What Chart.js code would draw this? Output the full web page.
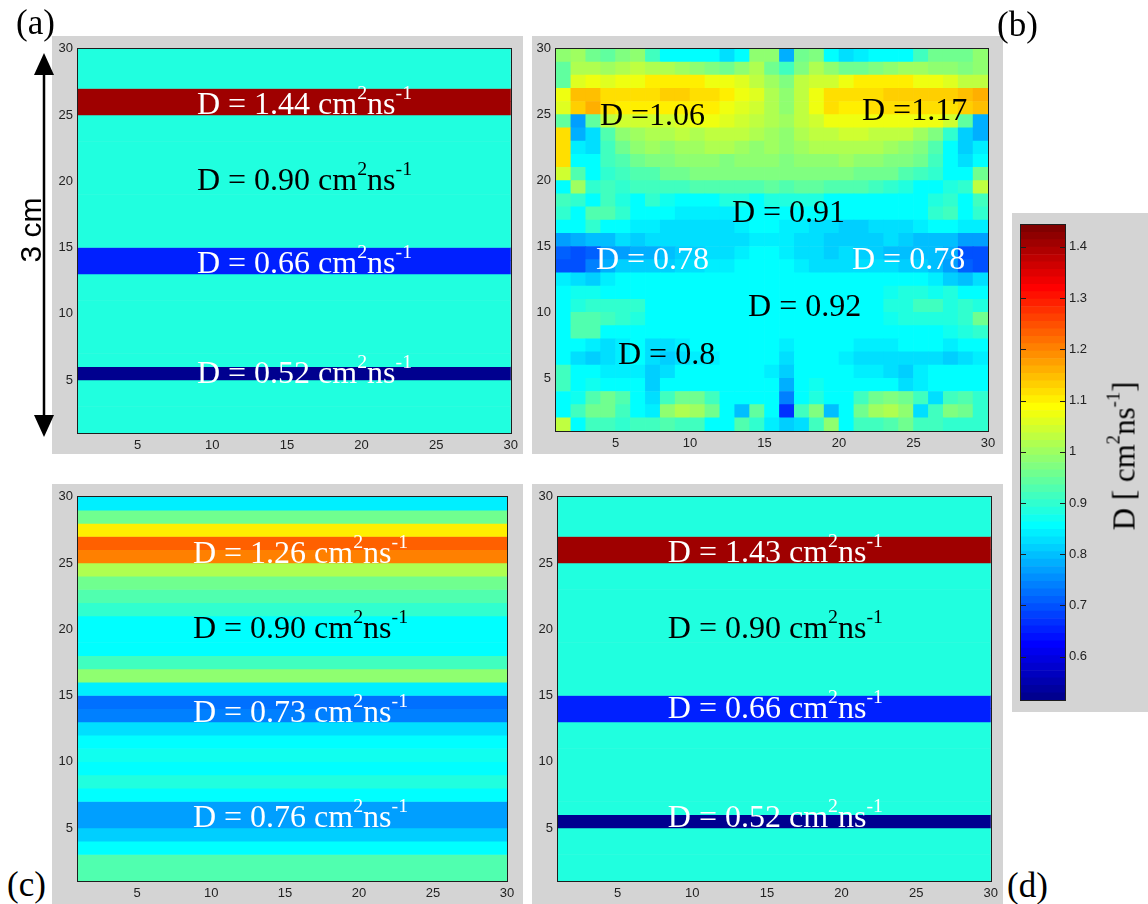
<!DOCTYPE html>
<html><head><meta charset="utf-8">
<script src="https://cdn.jsdelivr.net/npm/chart.js@4.4.1/dist/chart.umd.min.js"></script>
<style>
html,body{margin:0;padding:0;background:#fff;width:1148px;height:904px;overflow:hidden;position:relative;}
.panel{position:absolute;background:#d4d4d4;}
.panel canvas{display:block;}
.plab{position:absolute;font-family:"Liberation Serif",serif;font-size:35px;line-height:1;color:#000;white-space:nowrap;}
.rot{position:absolute;white-space:nowrap;line-height:1;transform:translate(-50%,-50%) rotate(-90deg);}
sup{font-size:60%;line-height:0;vertical-align:0.8em;}
</style></head><body>

<div class="panel" style="left:52px;top:36px;width:471px;height:418px"><canvas id="cA" width="471" height="418"></canvas></div>
<div class="panel" style="left:532px;top:36px;width:471px;height:418px"><canvas id="cB" width="471" height="418"></canvas></div>
<div class="panel" style="left:52px;top:484px;width:471px;height:420px"><canvas id="cC" width="471" height="420"></canvas></div>
<div class="panel" style="left:532px;top:484px;width:471px;height:420px"><canvas id="cD" width="471" height="420"></canvas></div>
<div class="panel" style="left:1012px;top:213px;width:136px;height:499px"><canvas id="cBar" width="136" height="499"></canvas></div>

<div class="plab" style="left:16px;top:5px">(a)</div>
<div class="plab" style="left:997px;top:7px">(b)</div>
<div class="plab" style="left:7px;top:867px">(c)</div>
<div class="plab" style="left:1007px;top:868px">(d)</div>

<svg style="position:absolute;left:0;top:0" width="70" height="460">
  <line x1="44" y1="70" x2="44" y2="420" stroke="#000" stroke-width="2.5"/>
  <polygon points="44,53 34,75 54,75" fill="#000"/>
  <polygon points="44,437 34,415 54,415" fill="#000"/>
</svg>
<div class="rot" style="left:31px;top:230px;font-family:'Liberation Sans',sans-serif;font-size:30px;">3 cm</div>
<div class="rot" style="left:1124px;top:456px;font-family:'Liberation Serif',serif;font-size:31px;">D [ cm<sup>2</sup>ns<sup>-1</sup>]</div>

<script>
// ---------------- data ----------------
const cellIndex = [1,2,3,4,5,6,7,8,9,10,11,12,13,14,15,16,17,18,19,20,21,22,23,24,25,26,27,28,29];
const tickValues = [5,10,15,20,25,30];
const colorbarTicks = [0.6,0.7,0.8,0.9,1,1.1,1.2,1.3,1.4];
const colorbarRange = [0.515,1.443];
const colorLimits = [0.52,1.47];

// horizontal layers, row 1 (bottom) to row 29 (top)
const rowsA = [0.90,0.90,0.90,0.90,0.52,0.90,0.90,0.90,0.90,0.90,0.90,0.90,0.66,0.66,0.90,0.90,0.90,0.90,0.90,0.90,0.90,0.90,0.90,0.90,1.44,1.44,0.90,0.90,0.90];
const rowsC = [0.94,0.94,0.872,0.825,0.78,0.785,0.862,0.895,0.872,0.89,0.867,0.834,0.751,0.732,0.853,1.006,0.923,0.867,0.867,0.867,0.913,0.941,0.969,1.035,1.23,1.258,1.128,0.969,0.853];
const rowsD = [0.90,0.90,0.90,0.90,0.52,0.90,0.90,0.90,0.90,0.90,0.90,0.90,0.66,0.66,0.90,0.90,0.90,0.90,0.90,0.90,0.90,0.90,0.90,0.90,1.43,1.43,0.90,0.90,0.90];

// panel (b): rows listed from top (row 29) to bottom (row 1), columns 1..29
const panelB = [
[1.006,1.016,0.976,0.96,0.986,1.006,0.935,0.873,0.868,0.868,0.868,0.842,0.863,0.996,0.996,0.801,0.97,0.986,0.868,0.842,0.853,0.873,0.873,0.873,0.935,0.976,0.97,0.976,1.006],
[0.955,1.037,1.037,1.016,1.037,1.047,1.027,1.037,1.016,0.996,0.986,0.976,1.006,1.037,0.97,0.935,0.986,1.037,1.006,0.976,0.97,0.986,0.996,1.016,1.016,1.006,0.996,0.986,1.006],
[0.955,1.078,1.088,1.078,1.088,1.098,1.114,1.114,1.114,1.114,1.098,1.088,1.073,1.052,1.016,0.986,1.047,1.063,1.063,1.088,1.114,1.114,1.114,1.114,1.098,1.088,1.078,1.052,1.047],
[1.088,1.165,1.165,1.139,1.139,1.139,1.139,1.144,1.144,1.139,1.129,1.114,1.098,1.073,1.037,1.006,1.052,1.088,1.129,1.129,1.139,1.139,1.144,1.144,1.144,1.150,1.155,1.165,1.186],
[1.078,1.150,1.175,1.129,1.119,1.119,1.119,1.119,1.119,1.119,1.114,1.098,1.078,1.063,1.027,0.996,1.052,1.088,1.129,1.114,1.119,1.129,1.129,1.129,1.129,1.129,1.129,1.150,1.165],
[0.955,0.781,0.96,1.047,1.057,1.063,1.068,1.068,1.078,1.088,1.088,1.078,1.063,1.052,1.037,1.016,1.047,1.063,1.088,1.098,1.098,1.098,1.098,1.098,1.093,1.088,1.063,0.96,0.791],
[1.129,0.791,0.842,0.95,1.006,1.016,1.037,1.037,1.042,1.037,1.042,1.052,1.042,1.037,1.016,0.996,1.037,1.042,1.052,1.063,1.063,1.052,1.052,1.042,1.016,0.986,0.914,0.822,0.791],
[1.139,0.853,0.842,0.935,0.97,0.996,1.016,1.006,1.016,1.016,1.027,1.027,1.016,1.006,1.016,1.006,1.016,1.027,1.027,1.037,1.037,1.027,1.016,1.006,0.986,0.95,0.873,0.822,0.853],
[1.129,0.868,0.873,0.935,0.95,0.97,0.981,0.981,0.996,0.996,0.996,0.986,0.996,0.996,1.006,0.986,1.006,1.006,1.006,1.016,1.006,0.996,0.986,0.986,0.97,0.935,0.863,0.842,0.863],
[1.063,0.95,0.873,0.914,0.935,0.95,0.95,0.97,0.97,0.981,0.981,0.981,0.986,0.981,0.986,0.981,0.986,0.986,0.986,0.981,0.97,0.97,0.97,0.95,0.935,0.914,0.873,0.873,0.97],
[0.868,1.016,0.914,0.924,0.914,0.935,0.935,0.935,0.935,0.94,0.94,0.94,0.95,0.94,0.96,0.95,0.96,0.96,0.95,0.94,0.94,0.935,0.914,0.894,0.873,0.873,0.894,0.914,1.052],
[0.935,0.914,0.873,0.935,0.894,0.873,0.914,0.883,0.873,0.873,0.873,0.894,0.894,0.873,0.894,0.894,0.899,0.894,0.873,0.873,0.868,0.873,0.873,0.868,0.873,0.894,0.914,0.873,0.935],
[0.914,0.873,0.94,0.94,0.914,0.873,0.873,0.868,0.858,0.853,0.853,0.858,0.868,0.873,0.873,0.873,0.873,0.873,0.868,0.868,0.863,0.863,0.868,0.873,0.873,0.914,0.935,0.873,0.914],
[0.868,0.868,0.914,0.873,0.863,0.853,0.853,0.842,0.832,0.832,0.837,0.842,0.853,0.863,0.863,0.853,0.853,0.842,0.832,0.822,0.822,0.832,0.837,0.842,0.853,0.863,0.873,0.853,0.853],
[0.781,0.796,0.812,0.812,0.832,0.822,0.832,0.832,0.832,0.842,0.842,0.832,0.842,0.853,0.853,0.848,0.842,0.832,0.822,0.822,0.822,0.822,0.832,0.822,0.812,0.807,0.807,0.786,0.776],
[0.72,0.704,0.714,0.781,0.786,0.791,0.791,0.807,0.817,0.827,0.832,0.842,0.853,0.863,0.863,0.853,0.842,0.832,0.827,0.832,0.827,0.817,0.812,0.812,0.812,0.807,0.801,0.709,0.704],
[0.709,0.709,0.75,0.796,0.817,0.827,0.827,0.827,0.832,0.842,0.853,0.853,0.863,0.868,0.868,0.863,0.853,0.842,0.842,0.842,0.842,0.832,0.832,0.827,0.817,0.807,0.786,0.72,0.709],
[0.848,0.837,0.817,0.853,0.873,0.873,0.873,0.873,0.873,0.873,0.873,0.873,0.873,0.873,0.873,0.873,0.873,0.873,0.873,0.873,0.873,0.873,0.873,0.873,0.863,0.853,0.827,0.807,0.832],
[0.868,0.878,0.878,0.873,0.873,0.873,0.873,0.873,0.873,0.873,0.873,0.873,0.873,0.873,0.873,0.873,0.873,0.873,0.873,0.873,0.873,0.873,0.878,0.894,0.894,0.878,0.894,0.873,0.873],
[0.873,0.894,0.914,0.914,0.914,0.914,0.873,0.873,0.873,0.873,0.873,0.873,0.873,0.873,0.873,0.873,0.873,0.873,0.873,0.873,0.873,0.873,0.894,0.899,0.924,0.924,0.899,0.914,0.894],
[0.873,0.945,0.95,0.935,0.914,0.894,0.873,0.873,0.873,0.873,0.873,0.873,0.873,0.873,0.873,0.873,0.873,0.873,0.873,0.873,0.873,0.873,0.878,0.894,0.899,0.899,0.894,0.914,0.97],
[0.868,0.95,0.95,0.873,0.873,0.873,0.873,0.873,0.873,0.873,0.873,0.873,0.873,0.873,0.873,0.863,0.873,0.873,0.873,0.873,0.873,0.873,0.873,0.873,0.873,0.873,0.878,0.894,0.914],
[0.868,0.863,0.853,0.842,0.853,0.863,0.842,0.832,0.848,0.863,0.868,0.873,0.873,0.873,0.863,0.853,0.868,0.868,0.863,0.863,0.853,0.853,0.858,0.863,0.863,0.863,0.853,0.863,0.868],
[0.868,0.842,0.822,0.832,0.853,0.863,0.842,0.822,0.832,0.853,0.853,0.863,0.868,0.873,0.863,0.842,0.863,0.868,0.863,0.853,0.842,0.842,0.837,0.832,0.832,0.842,0.822,0.832,0.853],
[0.935,0.868,0.863,0.853,0.848,0.853,0.822,0.842,0.863,0.868,0.863,0.873,0.873,0.873,0.853,0.817,0.868,0.873,0.868,0.863,0.853,0.853,0.832,0.822,0.853,0.868,0.873,0.868,0.873],
[0.935,0.873,0.878,0.873,0.873,0.863,0.822,0.863,0.873,0.873,0.873,0.873,0.868,0.873,0.873,0.796,0.873,0.878,0.873,0.873,0.873,0.873,0.868,0.842,0.853,0.873,0.873,0.873,0.873],
[0.873,0.878,0.95,0.97,0.94,0.873,0.842,0.935,0.97,0.97,0.935,0.873,0.873,0.868,0.873,0.75,0.873,0.899,0.873,0.873,0.935,0.97,0.981,0.97,0.935,0.842,0.935,0.95,0.914],
[0.873,0.935,0.97,0.97,0.924,0.873,0.853,1.006,1.037,1.016,0.97,0.873,0.812,0.96,0.873,0.674,0.935,0.986,0.812,0.873,0.97,1.016,1.037,1.006,0.832,0.935,0.986,0.97,0.914],
[1.047,0.873,0.935,0.935,0.914,0.935,0.935,0.95,0.935,0.935,0.873,0.873,0.95,0.914,0.853,0.822,0.842,0.935,1.006,0.873,0.935,0.935,0.95,0.97,0.935,0.935,0.914,0.914,0.914]
];

// annotation texts: value strings and their places (data units)
const labelsA = [
  {v:'1.44', x:8.97, y:25.85, c:'#fff'}, {v:'0.90', x:8.97, y:20.15, c:'#000'},
  {v:'0.66', x:8.97, y:13.9, c:'#fff'}, {v:'0.52', x:8.97, y:5.55, c:'#fff'}];
const labelsC = [
  {v:'1.26', x:8.77, y:25.82, c:'#fff'}, {v:'0.90', x:8.77, y:20.14, c:'#000'},
  {v:'0.73', x:8.77, y:13.83, c:'#fff'}, {v:'0.76', x:8.77, y:5.84, c:'#fff'}];
const labelsD = [
  {v:'1.43', x:8.36, y:25.89, c:'#fff'}, {v:'0.90', x:8.36, y:20.16, c:'#000'},
  {v:'0.66', x:8.36, y:14.09, c:'#fff'}, {v:'0.52', x:8.36, y:5.87, c:'#fff'}];
const labelsB = [
  {t:'D =1.06', x:3.95, y:25.0, c:'#000'}, {t:'D =1.17', x:21.54, y:25.39, c:'#000'},
  {t:'D = 0.91', x:12.81, y:17.69, c:'#000'}, {t:'D = 0.78', x:3.68, y:14.06, c:'#fff'},
  {t:'D = 0.78', x:20.87, y:14.06, c:'#fff'}, {t:'D = 0.92', x:13.89, y:10.51, c:'#000'},
  {t:'D = 0.8', x:5.16, y:6.89, c:'#000'}];

// ---------------- colour map (MATLAB jet, 64 levels) ----------------
const U = [];
for (let k=1;k<=16;k++) U.push(k/16);
for (let k=0;k<15;k++) U.push(1);
for (let k=16;k>=1;k--) U.push(k/16);
function jet64(i){
  const pick = j => (j>=1 && j<=47) ? U[j-1] : 0;
  const r = pick(i-24), g = pick(i-8), b = pick(i+8);
  return `rgb(${Math.round(r*255)},${Math.round(g*255)},${Math.round(b*255)})`;
}
function colorFor(v){
  const [lo,hi] = colorLimits;
  let idx = Math.floor((v-lo)/(hi-lo)*64)+1;
  idx = Math.max(1, Math.min(64, idx));
  return jet64(idx);
}

// ---------------- drawing helpers ----------------
Chart.defaults.font.family = '"Liberation Sans", Arial, sans-serif';
Chart.defaults.color = '#222';
const FS = 32;
function drawRich(ctx, parts, x, yb, color){
  ctx.save(); ctx.fillStyle = color; ctx.textAlign='left'; ctx.textBaseline='alphabetic';
  let cx = x;
  for (const p of parts){
    const s = p.sup ? FS*0.62 : FS;
    ctx.font = `${s}px "Liberation Serif"`;
    ctx.fillText(p.t, cx, yb - (p.sup ? FS*0.47 : 0));
    cx += ctx.measureText(p.t).width;
  }
  ctx.restore();
}
function partsFor(l){
  if (l.t) return [{t:l.t}];
  return [{t:'D = '+l.v+' cm'},{t:'2',sup:true},{t:'ns'},{t:'-1',sup:true}];
}
const panelDecor = {
  id:'panelDecor',
  afterDatasetsDraw(chart, args, opts){
    const ctx = chart.ctx, a = chart.chartArea;
    ctx.save(); ctx.strokeStyle='#1e1e1e'; ctx.lineWidth=1;
    ctx.strokeRect(Math.round(a.left)-0.5, Math.round(a.top)-0.5, Math.round(a.right-a.left)+1, Math.round(a.bottom-a.top)+1);
    ctx.restore();
    const xs = chart.scales.x, ys = chart.scales.y;
    (opts.items||[]).forEach(l=>{
      drawRich(ctx, partsFor(l), xs.getPixelForValue(l.x), ys.getPixelForValue(l.y) + 0.331*FS, l.c);
    });
  }
};
function axis(widthOrHeight, isX){
  return {
    type:'linear', min:1, max:30, offset:false,
    grid:{display:false, drawTicks:false, offset:false}, border:{display:false},
    ticks:{font:{size:13}, padding: isX?5:5, autoSkip:false, maxRotation:0, callback:v=>String(v)},
    afterBuildTicks(s){ s.ticks = tickValues.map(v=>({value:v})); },
    afterFit(s){ if(isX) s.height = widthOrHeight; else s.width = widthOrHeight; }
  };
}
function baseOptions(pad, yW, xH, items){
  return {
    responsive:false, animation:false, events:[],
    layout:{padding:pad},
    plugins:{legend:{display:false}, tooltip:{enabled:false}, panelDecor:{items}},
    scales:{x:axis(xH,true), y:axis(yW,false)}
  };
}
function stripeChart(id, rows, items, pad, yW, xH){
  const opts = baseOptions(pad, yW, xH, items);
  opts.indexAxis = 'y';
  new Chart(document.getElementById(id), {
    type:'bar',
    data:{datasets:[{
      data: rows.map((v,i)=>({y: cellIndex[i]+0.5, x:[1,30]})),
      backgroundColor: rows.map(colorFor), borderWidth:0,
      barPercentage:1, categoryPercentage:1
    }]},
    options:opts, plugins:[panelDecor]
  });
}
function gridChart(id, matrix, items, pad, yW, xH){
  const pts = [], cols = [];
  matrix.forEach((row,k)=>{
    const lower = cellIndex[cellIndex.length-1-k];
    row.forEach((v,c)=>{ pts.push({x: cellIndex[c]+0.5, y:[lower, lower+1]}); cols.push(colorFor(v)); });
  });
  new Chart(document.getElementById(id), {
    type:'bar',
    data:{datasets:[{data:pts, backgroundColor:cols, borderWidth:0, barPercentage:1, categoryPercentage:1}]},
    options:baseOptions(pad, yW, xH, items), plugins:[panelDecor]
  });
}

stripeChart('cA', rowsA, labelsA, {top:10,right:12,left:0,bottom:0}, 26, 21);
gridChart('cB', panelB, labelsB, {top:11,right:15,left:0,bottom:0}, 24, 23);
stripeChart('cC', rowsC, labelsC, {top:10,right:16,left:0,bottom:0}, 26, 23);
stripeChart('cD', rowsD, labelsD, {top:10,right:11,left:0,bottom:0}, 26, 23);

// ---------------- colour bar ----------------
const [cLo, cHi] = colorbarRange;
const step = (cHi-cLo)/64;
const barSets = [];
for (let i=0;i<64;i++){
  barSets.push({data:[[cLo+i*step, cLo+(i+1)*step]], backgroundColor:jet64(i+1), borderWidth:0,
    barPercentage:1, categoryPercentage:1, grouped:false});
}
const barDecor = {
  id:'barDecor',
  afterDatasetsDraw(chart){
    const ctx = chart.ctx, a = chart.chartArea, ys = chart.scales.y;
    ctx.save(); ctx.strokeStyle='#1e1e1e'; ctx.lineWidth=1;
    ctx.strokeRect(Math.round(a.left)-0.5, Math.round(a.top)-0.5, Math.round(a.right-a.left)+1, Math.round(a.bottom-a.top)+1);
    colorbarTicks.forEach(v=>{
      const y = Math.round(ys.getPixelForValue(v))+0.5;
      ctx.beginPath();
      ctx.moveTo(a.left, y); ctx.lineTo(a.left+5, y);
      ctx.moveTo(a.right-5, y); ctx.lineTo(a.right, y);
      ctx.stroke();
    });
    ctx.restore();
  }
};
new Chart(document.getElementById('cBar'), {
  type:'bar',
  data:{labels:[''], datasets:barSets},
  options:{
    responsive:false, animation:false, events:[],
    layout:{padding:{left:9, top:6, bottom:7, right:0}},
    plugins:{legend:{display:false}, tooltip:{enabled:false}},
    scales:{
      x:{display:false},
      y:{type:'linear', position:'right', min:cLo, max:cHi,
         grid:{display:false, drawTicks:false}, border:{display:false},
         ticks:{font:{size:13}, padding:4, callback:v=>String(v)},
         afterBuildTicks(s){ s.ticks = colorbarTicks.map(v=>({value:v})); },
         afterFit(s){ s.width = 83; }}
    }
  },
  plugins:[barDecor]
});
</script>
</body></html>
